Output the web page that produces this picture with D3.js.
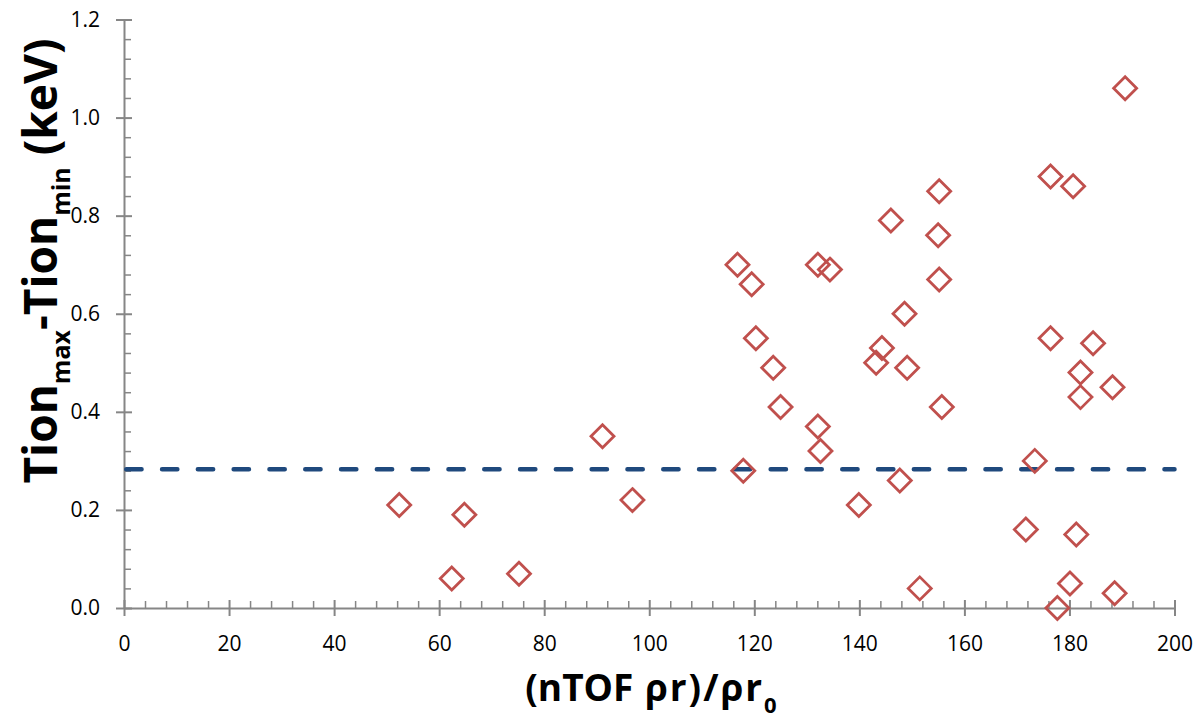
<!DOCTYPE html>
<html>
<head>
<meta charset="utf-8">
<script src="https://cdn.jsdelivr.net/npm/d3@7"></script>
<style>
  html, body { margin: 0; padding: 0; background: #fff; }
  svg { display: block; }
  .tick text { font-family: "Open Sans", Lato, sans-serif; font-size: 21px; fill: #000; }
  .title { font-family: "Open Sans", "Liberation Sans", sans-serif; font-weight: bold; fill: #000; }
</style>
</head>
<body>
<svg id="chart" width="1197" height="721"></svg>
<script>
// Normalised areal density (nTOF ρr / ρr0) for each shot
const rhoR = [
  52.4, 62.4, 64.8, 75.2, 91.1, 96.8,
  116.8, 117.9, 119.5, 120.3, 123.6, 125.0,
  132.1, 134.4, 132.1, 132.6, 139.9,
  146.0, 143.2, 144.3, 148.6, 149.1, 147.7, 151.5,
  155.2, 155.0, 155.2, 155.7,
  176.4, 180.7, 176.4, 184.5, 182.1, 182.1, 188.2, 190.6,
  173.4, 171.7, 181.3, 180.1, 177.7, 188.6
];
// Ion temperature spread Tion_max - Tion_min (keV) for the same shots
const tionSpread = [
  0.21, 0.06, 0.19, 0.07, 0.35, 0.22,
  0.70, 0.28, 0.66, 0.55, 0.49, 0.41,
  0.70, 0.69, 0.37, 0.32, 0.21,
  0.79, 0.50, 0.53, 0.60, 0.49, 0.26, 0.04,
  0.85, 0.76, 0.67, 0.41,
  0.88, 0.86, 0.55, 0.54, 0.48, 0.43, 0.45, 1.06,
  0.30, 0.16, 0.15, 0.05, 0.00, 0.03
];
// Reference level drawn as a dashed line
const threshold = 0.283;

const xTicks = [0, 20, 40, 60, 80, 100, 120, 140, 160, 180, 200];
const yTicks = [0.0, 0.2, 0.4, 0.6, 0.8, 1.0, 1.2];
const xMinorStep = 4;
const yMinorStep = 0.04;

const svg = d3.select("#chart");
const axisColor = "#868686";

const x = d3.scaleLinear().domain([0, 200]).range([124, 1174.5]);
const y = d3.scaleLinear().domain([0, 1.2]).range([608, 19.5]);

const xMinor = d3.range(0, 200 + 1e-9, xMinorStep).filter(v => !xTicks.includes(v));
const yMinor = d3.range(0, 1.2 + 1e-9, yMinorStep)
  .map(v => +v.toFixed(2))
  .filter(v => !yTicks.some(t => Math.abs(t - v) < 1e-6));

// Minor ticks point into the plot area
svg.append("g")
  .attr("transform", `translate(${x(0)},0)`)
  .call(d3.axisRight(y).tickValues(yMinor).tickSize(7).tickSizeOuter(0).tickFormat(""))
  .call(g => g.select(".domain").remove())
  .call(g => g.selectAll("line").attr("stroke", axisColor).attr("stroke-width", 1.5));

svg.append("g")
  .attr("transform", `translate(0,${y(0)})`)
  .call(d3.axisTop(x).tickValues(xMinor).tickSize(7).tickSizeOuter(0).tickFormat(""))
  .call(g => g.select(".domain").remove())
  .call(g => g.selectAll("line").attr("stroke", axisColor).attr("stroke-width", 1.5));

// Major ticks cross the axis line
const yAxis = svg.append("g")
  .attr("transform", `translate(${x(0)},0)`)
  .call(d3.axisLeft(y).tickValues(yTicks).tickSize(8).tickSizeOuter(0)
    .tickPadding(16).tickFormat(d3.format(".1f")));
yAxis.select(".domain").attr("stroke", axisColor).attr("stroke-width", 2);
yAxis.selectAll(".tick line").attr("x1", 8).attr("stroke", axisColor).attr("stroke-width", 2);

const xAxis = svg.append("g")
  .attr("transform", `translate(0,${y(0)})`)
  .call(d3.axisBottom(x).tickValues(xTicks).tickSize(8).tickSizeOuter(0)
    .tickPadding(20).tickFormat(d3.format("d")));
xAxis.select(".domain").attr("stroke", axisColor).attr("stroke-width", 2);
xAxis.selectAll(".tick line").attr("y1", -8).attr("stroke", axisColor).attr("stroke-width", 2);

svg.selectAll(".tick text").attr("font-size", null).attr("font-family", null);

// Dashed reference level
svg.append("line")
  .attr("x1", x(0)).attr("x2", x(200))
  .attr("y1", y(threshold)).attr("y2", y(threshold))
  .attr("stroke", "#1F497D")
  .attr("stroke-width", 4.5)
  .attr("stroke-linecap", "round")
  .attr("stroke-dasharray", "15.3 20.5")
  .attr("stroke-dashoffset", -2.25);

// Hollow diamond markers
const r = 11.5;
const diamond = `M0,${-r}L${r},0L0,${r}L${-r},0Z`;
svg.append("g")
  .selectAll("path")
  .data(d3.zip(rhoR, tionSpread))
  .join("path")
  .attr("d", diamond)
  .attr("transform", d => `translate(${x(d[0])},${y(d[1])})`)
  .attr("fill", "none")
  .attr("stroke", "#C0504D")
  .attr("stroke-width", 2.8);

// Axis titles
const xTitle = svg.append("text")
  .attr("class", "title")
  .attr("x", 651).attr("y", 701)
  .attr("text-anchor", "middle")
  .attr("font-size", 37);
xTitle.append("tspan").text("(nTOF");
xTitle.append("tspan").attr("letter-spacing", 2).text(" ρr)/ρr");
xTitle.append("tspan").attr("font-size", 22).attr("dy", 12).text("0");

const yTitle = svg.append("text")
  .attr("class", "title")
  .attr("transform", "translate(57,261) rotate(-90)")
  .attr("text-anchor", "middle")
  .attr("font-size", 46);
yTitle.append("tspan").text("Tion");
yTitle.append("tspan").attr("font-size", 25).attr("dy", 13).text("max");
yTitle.append("tspan").attr("dy", -13).text("-Tion");
yTitle.append("tspan").attr("font-size", 25).attr("dy", 13).text("min");
yTitle.append("tspan").attr("dy", -13).text(" (keV)");
</script>
</body>
</html>
